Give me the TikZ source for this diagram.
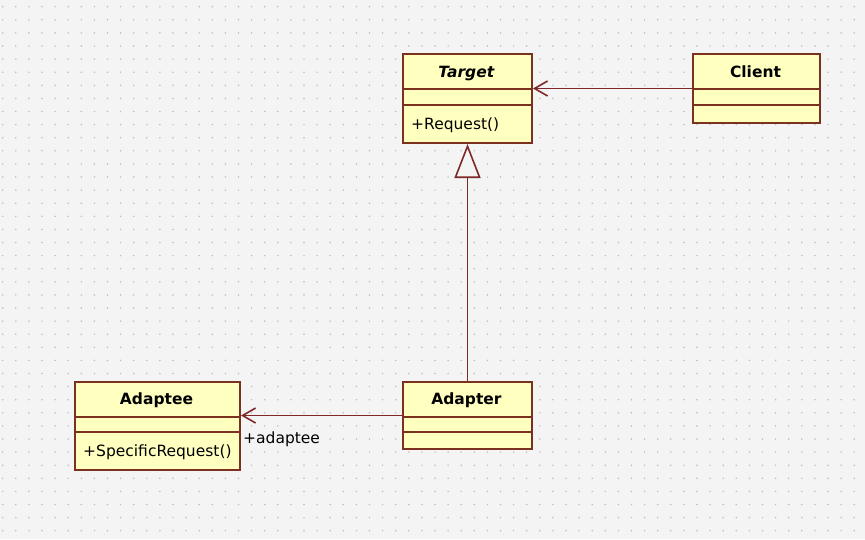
\documentclass[tikz,border=0pt]{standalone}
\usepackage{fontspec}
\setmainfont{DejaVu Sans}
\usetikzlibrary{arrows.meta}
\definecolor{bgc}{HTML}{F4F4F4}
\definecolor{dotc}{HTML}{BDBDBD}
\definecolor{fillc}{HTML}{FFFFC0}
\definecolor{borderc}{HTML}{7B3020}
\definecolor{linec}{HTML}{7F2828}
\tikzset{
  clsbox/.style={draw=borderc, fill=fillc, line width=2pt, anchor=north west, inner sep=0pt},
  divider/.style={draw=borderc, line width=2pt},
  clsname/.style={font=\fontsize{15.5}{18}\selectfont\bfseries, inner sep=0pt, anchor=base},
  member/.style={font=\fontsize{15.5}{18}\selectfont, inner sep=0pt, anchor=base west},
  assoc/.style={draw=linec, line width=1.8pt, -{Straight Barb[length=13pt,width=15pt,line width=1.6pt]}},
  gen/.style={draw=linec, line width=1.8pt, -{Triangle[open,length=34pt,width=26pt,fill=bgc,line width=1.6pt]}}
}
\begin{document}
\begin{tikzpicture}[x=1pt,y=-1pt]
\useasboundingbox (0,0) rectangle (865,539);
\fill[bgc] (0,0) rectangle (865,539);
\foreach \i in {0,...,65}
  \foreach \j in {0,...,40}
    \fill[dotc] (2.7+13.1*\i, 6.7+13.1*\j) circle[radius=0.85pt];

% Target
\node[clsbox, minimum width=129pt, minimum height=89pt] (target) at (402,53) {};
\node[clsname] (targetname) at (466.5,77) {\textit{Target}};
\draw[divider] (402,89) -- (531,89);
\draw[divider] (402,105) -- (531,105);
\node[member] (targetop) at (411,129) {+Request()};

% Client
\node[clsbox, minimum width=127pt, minimum height=69pt] (client) at (692,53) {};
\node[clsname] (clientname) at (755.5,77) {Client};
\draw[divider] (692,89) -- (819,89);
\draw[divider] (692,105) -- (819,105);

% Adaptee
\node[clsbox, minimum width=165pt, minimum height=88pt] (adaptee) at (74,381) {};
\node[clsname] (adapteename) at (156.5,404) {Adaptee};
\draw[divider] (74,417) -- (239,417);
\draw[divider] (74,432) -- (239,432);
\node[member] (adapteeop) at (83,456) {+SpecificRequest()};

% Adapter
\node[clsbox, minimum width=129pt, minimum height=67pt] (adapter) at (402,381) {};
\node[clsname] (adaptername) at (466.5,404) {Adapter};
\draw[divider] (402,417) -- (531,417);
\draw[divider] (402,432) -- (531,432);

% connectors
\draw[assoc] (client.west) -- (client.west -| target.east);
\draw[gen] (adapter.north) -- (target.south);
\draw[assoc] (adapter.west) -- (adapter.west -| adaptee.east);
\node[member] (rolelbl) at (243,443) {+adaptee};
\end{tikzpicture}
\end{document}
